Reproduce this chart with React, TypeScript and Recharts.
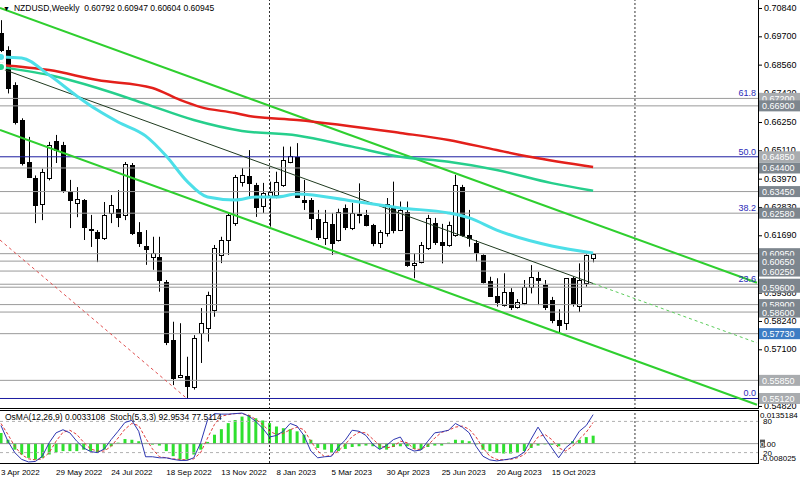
import React from 'react'
import { ComposedChart, Bar, Line, XAxis, YAxis, ReferenceLine } from 'recharts'

// NZDUSD weekly, week index 0 = 3 Apr 2022, last bar (86) = 26 Nov 2023
const FONT = '"Liberation Sans", Arial, sans-serif'
const PLOT_W = 758

const opens = [
  0.6985, 0.6915, 0.6774, 0.6633, 0.6464, 0.64, 0.6296, 0.64, 0.6547, 0.6533,
  0.6343, 0.6299, 0.6311, 0.6195, 0.6182, 0.6158, 0.6258, 0.6275, 0.6251, 0.6452,
  0.6182, 0.6126, 0.6082, 0.6083, 0.5982, 0.5747, 0.5598, 0.5602, 0.556, 0.5776,
  0.5796, 0.5868, 0.609, 0.615, 0.6217, 0.6385, 0.6408, 0.6372, 0.6287, 0.6325,
  0.6331, 0.6371, 0.6465, 0.6485, 0.6312, 0.6311, 0.6234, 0.6157, 0.6214, 0.615,
  0.6277, 0.6197, 0.6256, 0.6251, 0.621, 0.6137, 0.6177, 0.6277, 0.619, 0.6264,
  0.6049, 0.6063, 0.6118, 0.6217, 0.6144, 0.613, 0.6171, 0.6365, 0.6171, 0.6137,
  0.609, 0.5985, 0.5926, 0.5888, 0.5942, 0.5882, 0.5895, 0.5962, 0.5999, 0.5969,
  0.5908, 0.5828, 0.5814, 0.5996, 0.5884, 0.5975, 0.60792,
]
const highs = [
  0.7035, 0.693, 0.6785, 0.664, 0.6565, 0.641, 0.6437, 0.6545, 0.6573, 0.6545,
  0.6392, 0.6363, 0.6315, 0.6251, 0.619, 0.6303, 0.6331, 0.6351, 0.6464, 0.646,
  0.6222, 0.619, 0.6163, 0.6163, 0.5989, 0.5821, 0.5815, 0.568, 0.5767, 0.5876,
  0.5942, 0.613, 0.6163, 0.6259, 0.6412, 0.644, 0.6512, 0.638, 0.638, 0.6385,
  0.6425, 0.6526, 0.6526, 0.654, 0.6392, 0.6319, 0.6271, 0.6271, 0.6259, 0.6276,
  0.6293, 0.6299, 0.6378, 0.6271, 0.6215, 0.619, 0.6319, 0.6385, 0.6305, 0.6305,
  0.6096, 0.6142, 0.6251, 0.6239, 0.6215, 0.6224, 0.6412, 0.6372, 0.6271, 0.615,
  0.6092, 0.6002, 0.5996, 0.6016, 0.5956, 0.5912, 0.5989, 0.6049, 0.6022, 0.5989,
  0.5921, 0.5871, 0.5996, 0.6002, 0.6056, 0.6092, 0.60947,
]
const lows = [
  0.689, 0.674, 0.6615, 0.645, 0.64, 0.6218, 0.623, 0.639, 0.646, 0.634,
  0.6198, 0.6242, 0.615, 0.6122, 0.6061, 0.615, 0.6218, 0.6202, 0.623, 0.617,
  0.6122, 0.605, 0.603, 0.5942, 0.5727, 0.5566, 0.5594, 0.5512, 0.5548, 0.5655,
  0.5741, 0.5841, 0.6057, 0.609, 0.6207, 0.6365, 0.6324, 0.6243, 0.6259, 0.6204,
  0.6318, 0.6364, 0.6459, 0.6319, 0.6271, 0.619, 0.615, 0.613, 0.609, 0.6144,
  0.619, 0.619, 0.6217, 0.6205, 0.6125, 0.6118, 0.6164, 0.6177, 0.6186, 0.6042,
  0.5996, 0.6056, 0.611, 0.613, 0.6056, 0.6123, 0.6163, 0.6163, 0.6123, 0.6063,
  0.5975, 0.5922, 0.5882, 0.5882, 0.5868, 0.5874, 0.5888, 0.5935, 0.5888, 0.5868,
  0.5815, 0.5773, 0.5788, 0.5882, 0.586, 0.5962, 0.60604,
]
const closes = [
  0.6915, 0.6762, 0.6625, 0.646, 0.6404, 0.6291, 0.6424, 0.6532, 0.6511, 0.6351,
  0.6311, 0.6315, 0.6202, 0.619, 0.6158, 0.6251, 0.6291, 0.6243, 0.6456, 0.6178,
  0.6138, 0.6114, 0.6096, 0.5989, 0.5741, 0.5595, 0.5606, 0.5562, 0.5755, 0.5816,
  0.5929, 0.6118, 0.615, 0.6251, 0.6405, 0.6412, 0.6378, 0.6284, 0.634, 0.6344,
  0.6385, 0.6472, 0.6488, 0.6324, 0.6305, 0.6238, 0.6164, 0.6224, 0.6138, 0.6264,
  0.6203, 0.6257, 0.6254, 0.6211, 0.6138, 0.6183, 0.6295, 0.619, 0.6271, 0.6049,
  0.6056, 0.613, 0.6237, 0.6144, 0.613, 0.6211, 0.6372, 0.6171, 0.6157, 0.6103,
  0.5982, 0.5924, 0.5902, 0.5942, 0.5882, 0.5902, 0.5962, 0.6002, 0.5989, 0.5882,
  0.5828, 0.5808, 0.5996, 0.5895, 0.5989, 0.609, 0.60945,
]

// moving averages read at [week, price]
const maRed: [number, number][] = [
  [0, 0.6855], [7, 0.6834], [14, 0.6794], [22, 0.6762], [26, 0.6714], [29, 0.6685],
  [34, 0.6661], [36, 0.6649], [43, 0.6633], [58, 0.6581], [65, 0.6553], [72, 0.6512],
  [77, 0.6484], [86, 0.6444],
]
const maTeal: [number, number][] = [
  [0, 0.6846], [7, 0.6814], [14, 0.6762], [21, 0.6698], [28, 0.6633], [35, 0.6589],
  [43, 0.6571], [51, 0.6526], [58, 0.6485], [65, 0.6465], [72, 0.6432], [80, 0.6379],
  [86, 0.6348],
]
const maCyan: [number, number][] = [
  [0, 0.6887], [3, 0.6883], [7, 0.6814], [11, 0.673], [14, 0.6673], [17, 0.6625],
  [21, 0.6569], [24, 0.6488], [27, 0.6387], [30, 0.6323], [34, 0.6311], [37, 0.6323],
  [40, 0.6323], [43, 0.6335], [51, 0.6307], [58, 0.6279], [65, 0.6259], [68, 0.6239],
  [72, 0.619], [80, 0.6126], [86, 0.6098],
]

// OsMA(12,26,9) histogram and Stoch(5,3,3), one value per week
const osma = [
  0.0044, 0.0016, -0.0025, -0.0045, -0.0059, -0.0066, -0.0059, -0.0045, -0.0036, -0.0031,
  -0.0031, -0.0031, -0.0025, -0.0031, -0.0036, -0.0025, -0.0011, 0.0004, 0.0019, 0.0016,
  0.001, 0.0003, -0.0004, -0.0008, -0.0031, -0.0052, -0.0066, -0.0066, -0.0045, -0.0025,
  0.0007, 0.0037, 0.006, 0.0085, 0.0098, 0.0112, 0.0119, 0.0105, 0.0096, 0.0085,
  0.0071, 0.0064, 0.006, 0.0051, 0.0037, 0.0016, -0.0018, -0.0025, -0.0038, -0.0031,
  -0.0022, -0.0014, -0.0011, -0.0008, -0.0011, -0.0022, -0.0025, -0.0014, -0.0011, -0.0011,
  -0.0022, -0.0025, -0.0014, -0.0008, -0.0008, 0.0004, 0.0016, 0.0014, 0.001, -0.0003,
  -0.0025, -0.0031, -0.0038, -0.0041, -0.0041, -0.0038, -0.0031, -0.0018, -0.0008, -0.0003,
  -0.0005, -0.0011, 0.0003, 0.001, 0.0016, 0.0027, 0.0033,
]
const stochMain = [
  72, 42, 20, 7, 2, 3, 13, 39, 58, 64, 58, 42, 29, 22, 20, 27, 45, 61, 78, 82,
  61, 12, 12, 10, 10, 7, 5, 5, 10, 39, 83, 95, 94, 94, 95, 96, 90, 80, 67, 50,
  53, 61, 76, 71, 53, 23, 10, 12, 13, 31, 44, 63, 61, 53, 36, 26, 34, 45, 50, 29,
  23, 25, 42, 58, 60, 63, 76, 69, 58, 32, 13, 6, 4, 6, 8, 12, 21, 46, 69, 48,
  29, 10, 29, 40, 61, 72, 93,
]
const stochSignal = [
  76, 55, 32, 16, 8, 6, 8, 20, 42, 59, 63, 55, 40, 27, 23, 23, 32, 48, 65, 76,
  72, 48, 27, 12, 10, 8, 7, 6, 8, 20, 48, 74, 90, 93, 95, 95, 92, 84, 74, 61,
  55, 57, 64, 69, 64, 42, 23, 12, 15, 23, 36, 51, 59, 58, 46, 34, 29, 32, 42, 39,
  27, 26, 34, 48, 59, 63, 69, 71, 65, 50, 29, 13, 7, 6, 7, 10, 16, 32, 50, 55,
  45, 29, 23, 32, 46, 59, 78,
]

const timeTicks = [0, 8, 16, 24, 32, 40, 48, 56, 64, 72, 80]
const timeLabels = [
  '3 Apr 2022', '29 May 2022', '24 Jul 2022', '18 Sep 2022', '13 Nov 2022', '8 Jan 2023',
  '5 Mar 2023', '30 Apr 2023', '25 Jun 2023', '20 Aug 2023', '15 Oct 2023',
]
const yearSeparators = [39, 92.08]

const priceTicks = [
  0.7084, 0.697, 0.6856, 0.6742, 0.6625, 0.6511, 0.6397, 0.6283, 0.6169, 0.6055,
  0.5938, 0.5824, 0.571, 0.5596, 0.5482,
]
const levels = [
  0.672, 0.669, 0.6485, 0.644, 0.6345, 0.6258, 0.6095, 0.6065, 0.6025, 0.5972,
  0.596, 0.589, 0.586, 0.5773, 0.5585, 0.5512,
]
const blueLevels = [0.6485, 0.5512]
const lightTags = [0.672, 0.6485, 0.5585, 0.5512]
const fibPrices = [0.672, 0.6485, 0.6258, 0.5972, 0.5512]
const fibNames = ['61.8', '50.0', '38.2', '23.6', '0.0']

// channel and trend lines: [week, price] endpoints
const channelUpper: [number, number][] = [[-0.145, 0.7084], [109.8, 0.5978]]
const channelLower: [number, number][] = [[-0.145, 0.6593], [109.8, 0.5487]]
const trendSolid: [number, number][] = [[-0.145, 0.6842], [86, 0.5975]]
const trendRay: [number, number][] = [[86, 0.5975], [109.8, 0.5736]]
const redTrend: [number, number][] = [[-0.145, 0.615], [27, 0.5512]]

const K_DOMAIN: [number, number] = [-0.145, 109.95]
const P_DOMAIN: [number, number] = [0.54697, 0.71162]

const rows: any[] = opens.map((o, k) => ({
  k, o, h: highs[k], l: lows[k], c: closes[k], range: [lows[k], highs[k]],
}))
maRed.forEach(([k, v]) => (rows[k].red = v))
maTeal.forEach(([k, v]) => (rows[k].teal = v))
maCyan.forEach(([k, v]) => (rows[k].cyan = v))

const oscRows = osma.map((v, k) => ({ k, osma: v, main: stochMain[k], signal: stochSignal[k] }))

const seg = (pts: [number, number][]) => pts.map(([x, y]) => ({ x, y }))

function Candle(props: any) {
  const { x, y, width, height, payload } = props
  if (!payload || height == null) return null
  const { o, h, l, c } = payload
  const cx = Math.round(x + width / 2) + 0.5
  const span = h - l || 1e-9
  const py = (p: number) => y + ((h - p) / span) * height
  const top = Math.round(py(Math.max(o, c))) + 0.5
  const bot = Math.round(py(Math.min(o, c))) + 0.5
  return (
    <g>
      <line x1={cx} x2={cx} y1={y} y2={y + height} stroke="#000" strokeWidth={1} />
      <rect
        x={cx - 2}
        y={top}
        width={4}
        height={Math.max(bot - top, 1)}
        fill={c >= o ? '#fff' : '#000'}
        stroke="#000"
        strokeWidth={1}
      />
    </g>
  )
}

function PriceLabel({ viewBox, price }: any) {
  const y = viewBox.y
  return (
    <g>
      <line x1={PLOT_W + 1} x2={PLOT_W + 4} y1={y + 0.5} y2={y + 0.5} stroke="#000" />
      <text x={PLOT_W + 6} y={y + 3} fontSize={9} fontFamily={FONT} fill="#000">
        {price.toFixed(5)}
      </text>
    </g>
  )
}

function LevelTag({ viewBox, price }: any) {
  const y = viewBox.y
  const fill = price === 0.5773 ? '#3c7cc4' : lightTags.includes(price) ? '#a9acaf' : '#7d868e'
  return (
    <g>
      <rect x={PLOT_W + 1} y={y - 5.5} width={41} height={11} fill={fill} />
      <text x={PLOT_W + 4} y={y + 3.5} fontSize={9} fontFamily={FONT} fill="#fff">
        {price.toFixed(5)}
      </text>
    </g>
  )
}

function FibLabel({ viewBox, name }: any) {
  return (
    <text
      x={PLOT_W - 2}
      y={viewBox.y - 2}
      textAnchor="end"
      fontSize={9}
      fontFamily={FONT}
      fill="#2b2bb8"
    >
      {name}
    </text>
  )
}

function TimeTick({ x, y, payload }: any) {
  const i = timeTicks.indexOf(payload.value)
  return (
    <text x={x} y={y + 4} fontSize={8} fontFamily={FONT} fill="#000">
      {timeLabels[i]}
    </text>
  )
}

function OscTick({ y, payload }: any) {
  const v = payload.value
  if (v === 0) {
    return (
      <g>
        <rect x={PLOT_W + 2} y={y - 4} width={5} height={8} fill="#555" />
        <text x={PLOT_W + 2} y={y + 3} fontSize={8} fontFamily={FONT} fill="#000">
          <tspan fill="#fff">0</tspan>.00
        </text>
      </g>
    )
  }
  const dy = v > 0 ? 7 : -2
  return (
    <text x={PLOT_W + 2} y={y + dy} fontSize={8} fontFamily={FONT} fill="#000">
      {v > 0 ? v.toFixed(7) : v.toFixed(6)}
    </text>
  )
}

function StochLabel({ viewBox, text }: any) {
  return (
    <text x={PLOT_W + 5} y={viewBox.y + 3} fontSize={8} fontFamily={FONT} fill="#000">
      {text}
    </text>
  )
}

const border = (s: React.CSSProperties): React.CSSProperties => ({
  position: 'absolute',
  background: '#000',
  ...s,
})

export default function App() {
  return (
    <div
      style={{
        position: 'absolute',
        left: 0,
        top: 0,
        width: 800,
        height: 484,
        background: '#fff',
        overflow: 'hidden',
        fontFamily: FONT,
      }}
    >
      <div style={{ position: 'absolute', left: 0, top: 0 }}>
        <ComposedChart
          width={800}
          height={409}
          data={rows}
          margin={{ top: 0, right: 0, left: 0, bottom: 0 }}
        >
          <XAxis type="number" dataKey="k" domain={K_DOMAIN} hide allowDataOverflow />
          <YAxis
            type="number"
            orientation="right"
            width={42}
            domain={P_DOMAIN}
            allowDataOverflow
            tick={false}
            tickLine={false}
            axisLine={false}
          />
          {levels.map((p) => (
            <ReferenceLine
              key={'lv' + p}
              y={p}
              stroke={blueLevels.includes(p) ? '#1c1ca0' : '#9a9a9a'}
              strokeWidth={1}
            />
          ))}
          {yearSeparators.map((k) => (
            <ReferenceLine key={'sep' + k} x={k} stroke="#333" strokeDasharray="2 2" />
          ))}
          <ReferenceLine segment={seg(redTrend)} stroke="#e05050" strokeDasharray="3 3" ifOverflow="visible" />
          <ReferenceLine segment={seg(channelUpper)} stroke="#2fcf2f" strokeWidth={2} ifOverflow="visible" />
          <ReferenceLine segment={seg(channelLower)} stroke="#2fcf2f" strokeWidth={2} ifOverflow="visible" />
          <ReferenceLine segment={seg(trendSolid)} stroke="#1f3a1f" strokeWidth={1} ifOverflow="visible" />
          <ReferenceLine
            segment={seg(trendRay)}
            stroke="#5ccc5c"
            strokeDasharray="3 3"
            ifOverflow="visible"
          />
          {fibPrices.map((p, i) => (
            <ReferenceLine
              key={'fib' + p}
              y={p}
              stroke="none"
              label={<FibLabel name={fibNames[i]} />}
            />
          ))}
          {priceTicks.map((p) => (
            <ReferenceLine key={'pt' + p} y={p} stroke="none" label={<PriceLabel price={p} />} />
          ))}
          {levels.map((p) => (
            <ReferenceLine key={'tag' + p} y={p} stroke="none" label={<LevelTag price={p} />} />
          ))}
          <Bar dataKey="range" barSize={5} shape={Candle} isAnimationActive={false} />
          <Line
            dataKey="red"
            type="monotone"
            stroke="#e3201b"
            strokeWidth={2.5}
            dot={false}
            connectNulls
            isAnimationActive={false}
          />
          <Line
            dataKey="teal"
            type="monotone"
            stroke="#26cf8c"
            strokeWidth={2.5}
            dot={false}
            connectNulls
            isAnimationActive={false}
          />
          <Line
            dataKey="cyan"
            type="monotone"
            stroke="#4ddfe8"
            strokeWidth={3}
            dot={false}
            connectNulls
            isAnimationActive={false}
          />
        </ComposedChart>
      </div>

      <div style={{ position: 'absolute', left: 0, top: 409 }}>
        <ComposedChart
          width={800}
          height={75}
          data={oscRows}
          margin={{ top: 2, right: 0, left: 0, bottom: 0 }}
        >
          <XAxis
            type="number"
            dataKey="k"
            domain={K_DOMAIN}
            ticks={timeTicks}
            interval={0}
            tick={<TimeTick />}
            tickLine={false}
            axisLine={false}
            height={21}
            allowDataOverflow
          />
          <YAxis
            yAxisId="osma"
            type="number"
            orientation="right"
            width={42}
            domain={[-0.008025, 0.0135184]}
            ticks={[0.0135184, 0, -0.008025]}
            interval={0}
            tick={<OscTick />}
            tickLine={false}
            axisLine={false}
            allowDataOverflow
          />
          <YAxis yAxisId="stoch" type="number" hide domain={[0, 100]} allowDataOverflow />
          <ReferenceLine yAxisId="osma" y={0} stroke="#9a9a9a" />
          <ReferenceLine
            yAxisId="stoch"
            y={80}
            stroke="#b0b0b0"
            strokeDasharray="3 3"
            label={<StochLabel text="80" />}
          />
          <ReferenceLine
            yAxisId="stoch"
            y={20}
            stroke="#b0b0b0"
            strokeDasharray="3 3"
            label={<StochLabel text="20" />}
          />
          {yearSeparators.map((k) => (
            <ReferenceLine
              key={'sep2' + k}
              yAxisId="osma"
              x={k}
              stroke="#333"
              strokeDasharray="2 2"
            />
          ))}
          <Bar yAxisId="osma" dataKey="osma" barSize={3} fill="#2fe02f" isAnimationActive={false} />
          <Line
            yAxisId="stoch"
            dataKey="signal"
            type="linear"
            stroke="#e03a3a"
            strokeDasharray="3 2"
            strokeWidth={1}
            dot={false}
            isAnimationActive={false}
          />
          <Line
            yAxisId="stoch"
            dataKey="main"
            type="linear"
            stroke="#2e36b0"
            strokeWidth={1}
            dot={false}
            isAnimationActive={false}
          />
        </ComposedChart>
      </div>

      {/* panel frames */}
      <div style={border({ left: 758, top: 0, width: 1, height: 409 })} />
      <div style={border({ left: 0, top: 408, width: 759, height: 1 })} />
      <div style={border({ left: 0, top: 410, width: 759, height: 1 })} />
      <div style={border({ left: 0, top: 463, width: 759, height: 1 })} />
      <div style={border({ left: 758, top: 410, width: 1, height: 54 })} />

      <div
        style={{
          position: 'absolute',
          left: 3,
          top: 3,
          fontSize: 8.5,
          color: '#000',
          whiteSpace: 'pre',
          lineHeight: '10px',
        }}
      >
        <span style={{ fontSize: 7, marginRight: 4 }}>▼</span>
        NZDUSD,Weekly  0.60792 0.60947 0.60604 0.60945
      </div>
      <div
        style={{
          position: 'absolute',
          left: 5,
          top: 412,
          fontSize: 8.5,
          color: '#000',
          whiteSpace: 'pre',
          lineHeight: '10px',
        }}
      >
        OsMA(12,26,9) 0.0033108  Stoch(5,3,3) 92.9534 77.5114
      </div>
    </div>
  )
}
